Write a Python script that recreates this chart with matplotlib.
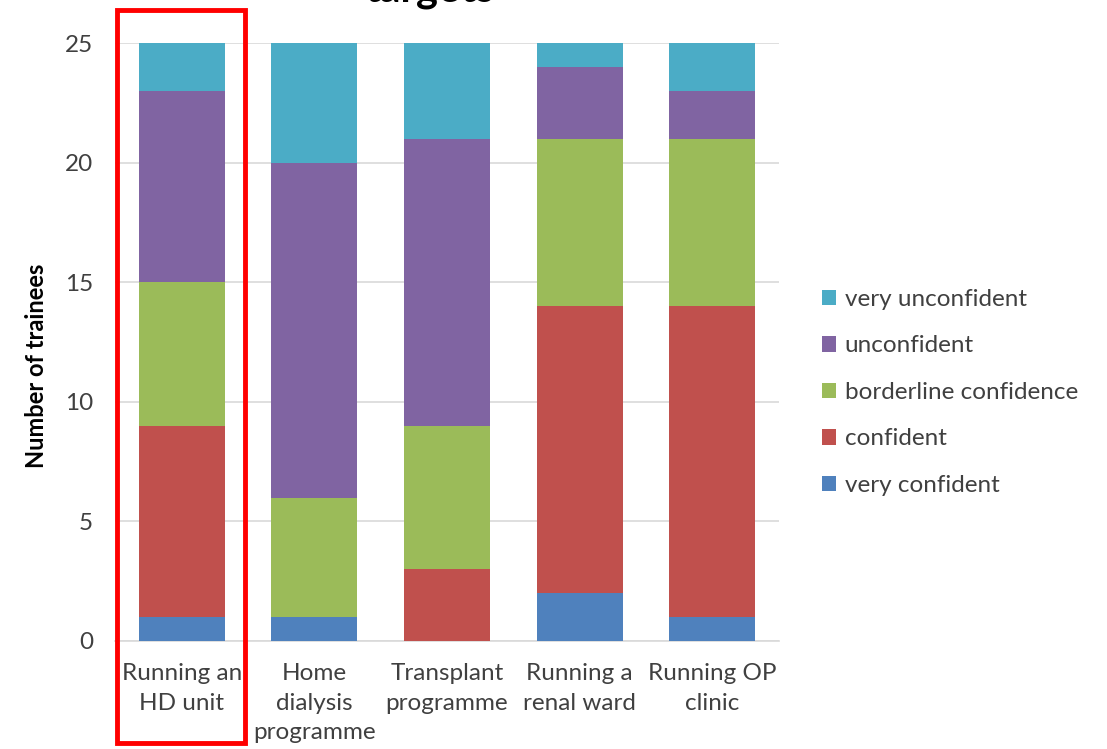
import matplotlib
matplotlib.use("Agg")
import matplotlib.pyplot as plt
import matplotlib.patches as patches
import numpy as np

plt.rcParams["font.family"] = ["Lato", "DejaVu Sans"]

categories = ["Running an\nHD unit", "Home\ndialysis\nprogramme", "Transplant\nprogramme",
              "Running a\nrenal ward", "Running OP\nclinic"]
very_confident = [1, 1, 0, 2, 1]
confident = [8, 0, 3, 12, 13]
borderline = [6, 5, 6, 7, 7]
unconfident = [8, 14, 12, 3, 2]
very_unconfident = [2, 5, 4, 1, 2]

series = [
    ("very confident", very_confident, "#4F81BD"),
    ("confident", confident, "#C0504D"),
    ("borderline confidence", borderline, "#9BBB59"),
    ("unconfident", unconfident, "#8064A2"),
    ("very unconfident", very_unconfident, "#4BACC6"),
]

fig = plt.figure(figsize=(11.07, 7.49), dpi=100)
ax = fig.add_axes([0.1043, 0.1442, 0.599, 0.798])

x = np.arange(len(categories))
bottom = np.zeros(len(categories))
handles = []
for label, vals, color in series:
    b = ax.bar(x, vals, width=0.65, bottom=bottom, color=color, label=label, zorder=3)
    handles.append(b)
    bottom += np.array(vals)

ax.set_xlim(-0.5, len(categories) - 0.5)
ax.set_ylim(0, 25)
ax.set_yticks([0, 5, 10, 15, 20, 25])
ax.set_xticks(x)
ax.set_xticklabels(categories, fontsize=17.5, color="#404040", linespacing=1.5)
ax.tick_params(axis="y", labelsize=17.5, colors="#404040", length=0, pad=16)
ax.tick_params(axis="x", length=0, pad=16)
ax.grid(axis="y", color="#D9D9D9", linewidth=1.2, zorder=0)
for s in ["top", "right", "left"]:
    ax.spines[s].set_visible(False)
ax.spines["bottom"].set_color("#D9D9D9")
ax.spines["bottom"].set_linewidth(1.2)
ax.set_ylabel("Number of trainees", fontsize=17, fontweight="bold", labelpad=12, y=0.46)

leg = fig.legend(handles[::-1], [s[0] for s in series][::-1], loc="center left",
                 bbox_to_anchor=(0.7225, 0.476), frameon=False, fontsize=17.5,
                 handlelength=0.6, handleheight=0.6, handletextpad=0.35,
                 labelspacing=1.05)
for t in leg.get_texts():
    t.set_color("#404040")

# partially cut-off title
fig.text(0.388, 1 - 3 / 749, "targets", ha="center", va="baseline",
         fontsize=30, fontweight="bold", color="#000000")

# red highlight box around the first bar
rect = patches.Rectangle((117 / 1107, 1 - 743 / 749), (245 - 117) / 1107, (743 - 10) / 749,
                         transform=fig.transFigure, fill=False, edgecolor="#FF0000",
                         linewidth=3.5, zorder=10)
fig.patches.append(rect)

fig.savefig("out.png", dpi=100)
